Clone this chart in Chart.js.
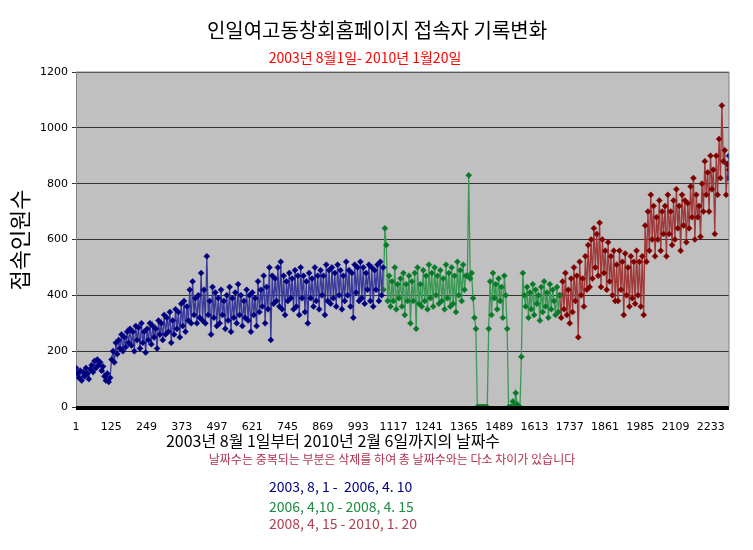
<!DOCTYPE html>
<html><head><meta charset="utf-8">
<script src="https://cdn.jsdelivr.net/npm/chart.js@4"></script>
<style>body{margin:0;background:#fff}canvas{display:block}</style></head>
<body><canvas id="c" width="753" height="550"></canvas>
<script>
const titleText = "인일여고동창회홈페이지 접속자 기록변화";
const subtitleText = "2003년 8월1일- 2010년 1월20일";
const yTitle = "접속인원수";
const xTitle = "2003년 8월 1일부터 2010년 2월 6일까지의 날짜수";
const noteText = "날짜수는 중복되는 부분은 삭제를 하여 총 날짜수와는 다소 차이가 있습니다";
const legendTexts = ["2003, 8, 1 -  2006, 4. 10", "2006, 4,10 - 2008, 4. 15", "2008, 4, 15 - 2010, 1. 20"];
const xTickLabels = [1,125,249,373,497,621,745,869,993,1117,1241,1365,1489,1613,1737,1861,1985,2109,2233];
const yTickLabels = [0,200,400,600,800,1000,1200];

const blueStart = 1, greenStart = 1082, redStart = 1702, dayStep = 5;
const blueValues = [
140,120,105,130,95,125,110,140,120,100,135,150,125,165,140,170,150,160,130,145,
110,95,120,90,105,170,200,160,230,190,240,210,260,200,250,215,270,230,280,220,
270,200,290,240,285,210,300,230,270,195,280,240,300,225,290,250,280,210,310,260,
300,240,330,260,320,270,340,230,310,260,350,280,340,250,370,290,380,270,360,310,
420,300,450,330,390,300,400,320,480,310,420,300,540,330,380,260,430,320,410,290,
390,300,420,330,380,280,400,310,430,270,390,320,410,300,440,330,400,290,380,320,
420,310,400,270,410,330,390,290,450,340,420,360,470,300,430,350,500,240,470,370,
460,380,500,360,520,350,470,330,450,380,480,390,460,350,490,360,470,330,500,390,
470,340,450,300,480,390,460,360,500,380,470,350,490,400,470,330,510,380,490,370,
500,390,480,360,510,400,490,350,470,380,520,400,490,360,480,320,510,410,500,380,
520,390,500,370,480,420,510,380,500,360,490,420,510,380,520,400,500];
const greenValues = [
420,640,580,380,470,360,450,380,500,350,440,390,460,360,480,330,440,380,470,300,
450,380,480,280,500,370,440,360,490,380,470,350,510,390,480,360,500,400,470,370,
490,380,460,350,510,390,480,360,500,370,470,340,520,400,490,380,510,420,470,470,
830,460,480,390,320,280,0,0,0,0,0,0,0,0,280,450,330,480,390,440,
350,460,380,430,320,470,400,280,0,0,0,20,0,50,10,0,0,180,480,400,
360,430,320,410,350,440,330,420,370,400,310,430,340,450,360,410,320,440,350,420,
380,330,430,340,400];
const redValues = [
400,320,450,350,480,330,420,300,460,340,500,380,470,250,520,400,460,360,540,420,
580,430,600,460,640,500,620,470,660,430,600,480,560,420,590,450,540,400,560,380,
510,380,560,420,520,330,550,400,500,360,540,390,520,370,560,400,520,360,540,330,
650,520,700,560,760,600,720,540,680,600,740,560,700,620,720,540,760,620,700,580,
740,600,780,640,720,560,760,650,740,590,730,640,790,680,820,600,760,680,720,610,
800,700,880,760,840,700,900,780,850,620,900,760,960,820,1080,880,920,760,870,850];
const blueTailDays = [2291, 2294, 2297];
const blueTailValues = [870, 820, 900];

function toPts(start, vals){ return vals.map((v,i)=>({x:start+i*dayStep, y:v})); }
function ds(data, c, lc){ return {data, borderColor:lc, backgroundColor:c, pointBorderColor:c, borderWidth:1.3, pointStyle:'rectRot', pointRadius:3, pointBorderWidth:0.5}; }

const bgPlugin = {id:'bg', beforeDraw(ch){const a=ch.chartArea,g=ch.ctx;g.save();g.fillStyle='#c0c0c0';g.fillRect(a.left,a.top,a.right-a.left,a.bottom-a.top);g.restore();},
 afterDraw(ch){const a=ch.chartArea,g=ch.ctx;g.save();
  g.strokeStyle='#000';g.lineWidth=4;g.beginPath();g.moveTo(a.left,a.bottom+1);g.lineTo(a.right,a.bottom+1);g.stroke();
  g.strokeStyle='#808080';g.lineWidth=1;g.beginPath();g.moveTo(a.left,a.top);g.lineTo(a.right,a.top);g.lineTo(a.right,a.bottom);g.stroke();
  g.fillStyle='#000';g.textAlign='center';g.textBaseline='middle';
  g.font='20px "Noto Sans CJK KR"';g.fillText(titleText,377,30);
  g.fillStyle='#ff0000';g.font='14px "Noto Sans CJK KR"';g.fillText(subtitleText,365,58);
  g.fillStyle='#000';g.font='16px "Noto Sans CJK KR"';g.fillText(xTitle,333,441);
  g.fillStyle='#b03050';g.font='12px "Noto Sans CJK KR"';g.fillText(noteText,392,459);
  const lc=['#000080','#1f8a3f','#b04050'];
  g.font='14px "Noto Sans CJK KR"';g.textAlign='left';
  [487,507,524].forEach((y,i)=>{g.fillStyle=lc[i];g.fillText(legendTexts[i],269,y);});
  g.translate(20,240);g.rotate(-Math.PI/2);g.textAlign='center';g.fillStyle='#000';g.font='22px "Noto Sans CJK KR"';g.fillText(yTitle,0,0);
  g.restore();}};

new Chart(document.getElementById('c'),{type:'line',
 data:{datasets:[
  ds(toPts(blueStart,blueValues),'#000080','#3a3a9a'),
  ds(toPts(greenStart,greenValues),'#0a7a2a','#3a9a55'),
  ds(toPts(redStart,redValues),'#800000','#a03a3a'),
  ds(blueTailDays.map((d,i)=>({x:d,y:blueTailValues[i]})),'#000080','#3a3a9a')]},
 options:{responsive:false,animation:false,layout:{padding:{top:72,right:24,bottom:0,left:0}},
  plugins:{legend:{display:false},tooltip:{enabled:false}},
  scales:{
   x:{type:'linear',min:1,max:2297,grid:{display:false},border:{display:false},
      afterBuildTicks(s){s.ticks=xTickLabels.map(v=>({value:v}));},
      afterFit(s){s.height=143;},
      ticks:{autoSkip:false,maxRotation:0,color:'#000',font:{size:11,family:'DejaVu Sans'},padding:6,callback:v=>String(v)}},
   y:{min:0,max:1200,afterBuildTicks(s){s.ticks=yTickLabels.map(v=>({value:v}));},
      afterFit(s){s.width=76;},
      grid:{color:'#333',drawTicks:true,tickLength:4},border:{color:'#808080'},
      ticks:{color:'#000',font:{size:11,family:'DejaVu Sans'},padding:4,callback:v=>String(v)}}}}
 ,plugins:[bgPlugin]});
</script></body></html>
